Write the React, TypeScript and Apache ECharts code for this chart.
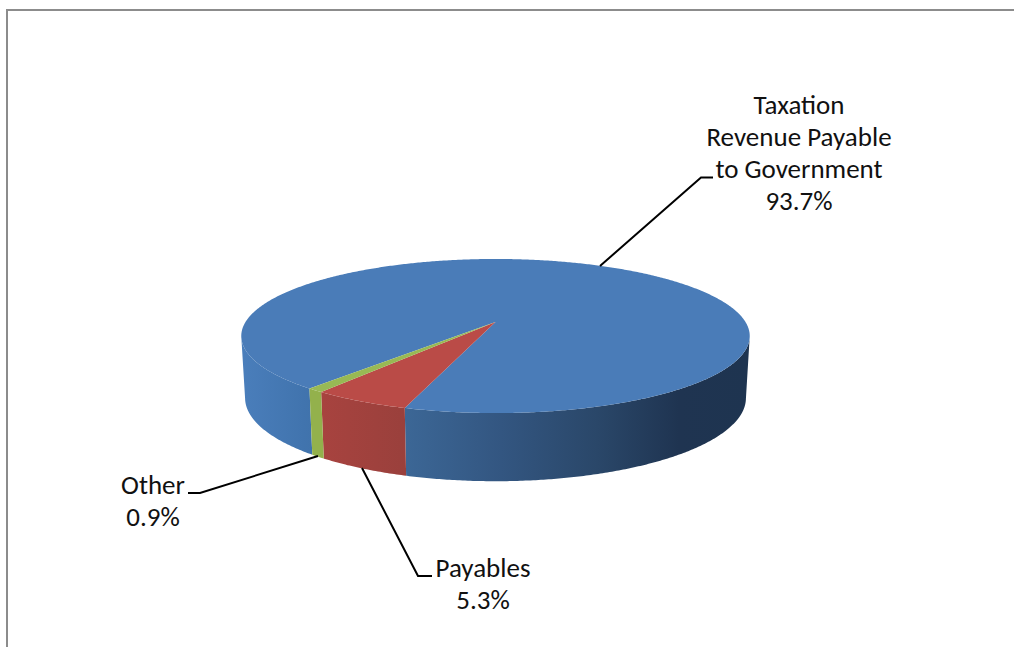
import React, { useEffect, useRef } from "react";
import * as echarts from "echarts";

const categories = ["Taxation\nRevenue Payable\nto Government", "Payables", "Other"];
const shares = [93.7, 5.3, 0.9];

const topColors = ["#4a7cb8", "#ba4b47", "#98b954"];
const wallStops = [
  [
    [0, "#4a7ebb"],
    [0.12, "#4174ae"],
    [0.32, "#3c6796"],
    [0.51, "#335681"],
    [0.7, "#2a4769"],
    [0.86, "#1f3451"],
    [1, "#1e3450"],
  ],
  [
    [0, "#a8433f"],
    [1, "#9a403c"],
  ],
  [
    [0, "#93b14c"],
    [1, "#93b14c"],
  ],
];

// Perspective model of the disc: apex of the slices, and rim projection factors.
const APEX_X = 495.5;
const APEX_Y = 322;
const RIM_A = 250;
const RIM_B = 74.5;
const TILT = 0.1818;
// Centre of the projected rim ellipse, and the offset of the lower rim.
const RIM_CX = 496;
const RIM_CY = 336;
const BASE_CY = 398;
const BASE_SCALE_X = 0.985;
const BASE_SCALE_Y = 1.08;
// Clockwise angle from the front of the disc at which the first slice begins.
const START_DEG = 39.8;
const STEP_DEG = 0.5;

const total = shares.reduce((a, b) => a + b, 0);

function sliceRange(i: number): [number, number] {
  const before = shares.slice(0, i).reduce((a, b) => a + b, 0);
  return [
    START_DEG + (before / total) * 360,
    START_DEG + ((before + shares[i]) / total) * 360,
  ];
}

function rimPoint(deg: number): [number, number] {
  const t = (deg * Math.PI) / 180;
  const u = -Math.sin(t);
  const v = Math.cos(t);
  const d = 1 - TILT * v;
  return [APEX_X + (RIM_A * u) / d, APEX_Y + (RIM_B * v) / d];
}

function basePoint(p: [number, number]): [number, number] {
  return [
    RIM_CX + (p[0] - RIM_CX) * BASE_SCALE_X,
    BASE_CY + (p[1] - RIM_CY) * BASE_SCALE_Y,
  ];
}

function sampleAngles(a0: number, a1: number): number[] {
  const out: number[] = [];
  for (let a = a0; a < a1; a += STEP_DEG) out.push(a);
  out.push(a1);
  return out;
}

function renderWall(params: any) {
  const i = params.dataIndex;
  const [a0, a1] = sliceRange(i);
  const runs: [number, number][][] = [];
  let run: [number, number][] | null = null;
  sampleAngles(a0, a1).forEach((a) => {
    const p = rimPoint(a);
    if (p[1] >= RIM_CY) {
      if (!run) {
        run = [];
        runs.push(run);
      }
      run.push(p);
    } else {
      run = null;
    }
  });
  const stops = wallStops[i];
  const bounds: [number, number] = i === 0 ? [242, 750] : i === 1 ? [319, 405] : [307, 319];
  const fill = new echarts.graphic.LinearGradient(
    bounds[0],
    0,
    bounds[1],
    0,
    stops.map(([offset, color]) => ({ offset: offset as number, color: color as string })),
    true
  );
  return {
    type: "group",
    children: runs.map((r) => ({
      type: "polygon",
      shape: { points: [...r, ...r.slice().reverse().map(basePoint)] },
      style: { fill },
    })),
  };
}

function renderTop(params: any) {
  const i = params.dataIndex;
  const [a0, a1] = sliceRange(i);
  return {
    type: "polygon",
    shape: { points: [[APEX_X, APEX_Y], ...sampleAngles(a0, a1).map(rimPoint)] },
    style: { fill: topColors[i] },
  };
}

// Leader line and centred label block for each slice.
const leaderPaths = [
  [[600, 266], [701, 177.5], [713, 177.5]],
  [[362, 468], [418, 576], [432, 576]],
  [[318, 456], [200, 493], [188, 493]],
];
const labelCentres = [
  [799, 104],
  [483, 567],
  [153, 484],
];
const LINE_HEIGHT = 32.3;

function renderLabel(params: any, api: any) {
  const i = params.dataIndex;
  const lines = [...categories[i].split("\n"), `${api.value(0).toFixed(1)}%`];
  const [cx, y0] = labelCentres[i];
  return {
    type: "group",
    children: [
      {
        type: "polyline",
        shape: { points: leaderPaths[i] },
        style: { stroke: "#000", lineWidth: 2, fill: "none" },
      },
      ...lines.map((text, k) => ({
        type: "text",
        style: {
          text,
          x: cx,
          y: y0 + k * LINE_HEIGHT,
          align: "center",
          verticalAlign: "middle",
          fill: "#111",
          fontFamily: "Carlito, Lato, 'Open Sans', sans-serif",
          fontSize: 27,
        },
      })),
    ],
  };
}

export default function App() {
  const ref = useRef<HTMLDivElement>(null);
  useEffect(() => {
    document.body.style.margin = "0";
    const chart = echarts.init(ref.current!, null, { renderer: "svg" });
    const data = shares.map((v) => [v]);
    chart.setOption({
      animation: false,
      backgroundColor: "#fff",
      graphic: [
        {
          type: "polyline",
          shape: { points: [[7, 647], [7, 10], [1014, 10]] },
          style: { stroke: "#8c8c8c", lineWidth: 2, fill: "none" },
        },
      ],
      series: [
        { type: "custom", coordinateSystem: "none", renderItem: renderWall, data, silent: true, z: 1 },
        { type: "custom", coordinateSystem: "none", renderItem: renderTop, data, silent: true, z: 2 },
        { type: "custom", coordinateSystem: "none", renderItem: renderLabel, data, silent: true, z: 3 },
      ],
    });
    return () => chart.dispose();
  }, []);
  return (
    <div
      ref={ref}
      style={{ position: "absolute", left: 0, top: 0, width: 1014, height: 647 }}
    />
  );
}
